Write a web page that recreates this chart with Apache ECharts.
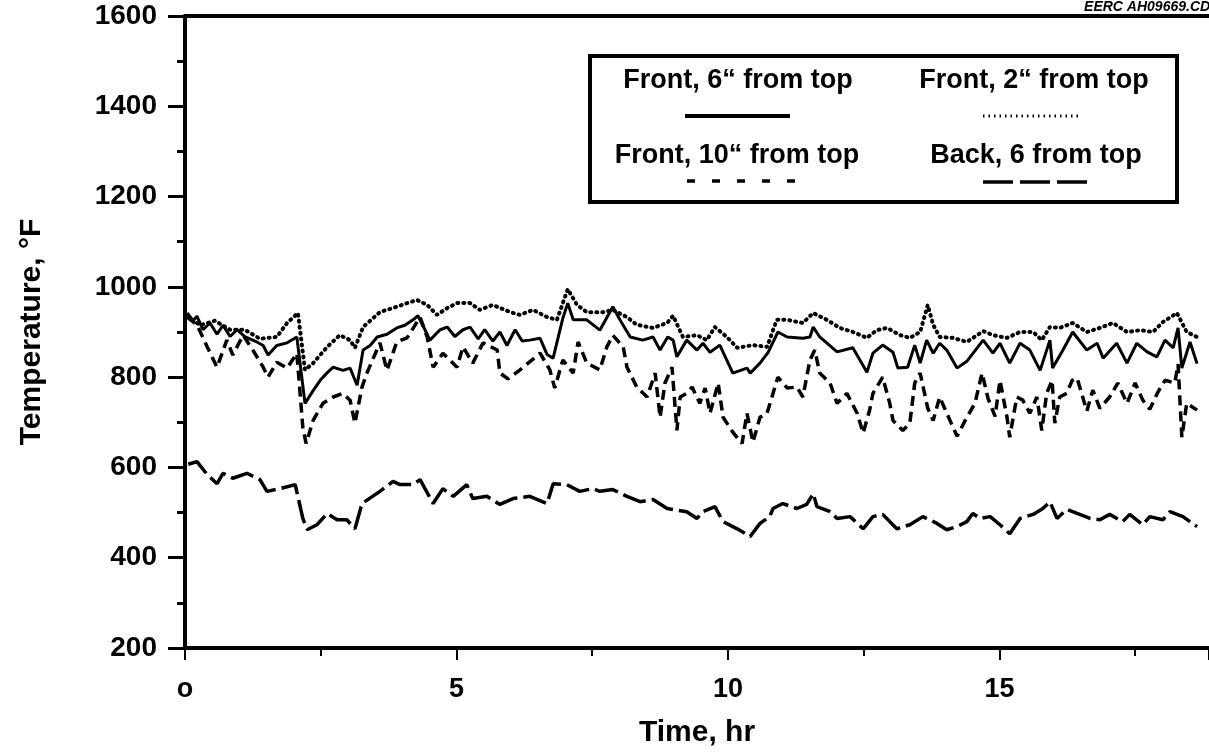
<!DOCTYPE html>
<html>
<head>
<meta charset="utf-8">
<script src="https://cdn.jsdelivr.net/npm/echarts@6/dist/echarts.min.js"></script>
<style>
html,body{margin:0;padding:0;background:#fff;}
#chart{width:1209px;height:755px;}
</style>
</head>
<body>
<div id="chart"></div>
<script>
// ---- data ----
const xTickLabels = ['o', '5', '10', '15'];
const seriesNames = ['Front, 6\u201C from top', 'Front, 2\u201C from top', 'Front, 10\u201C from top', 'Back, 6 from top'];

const front6Time = [0.04,0.15,0.22,0.33,0.46,0.59,0.70,0.83,0.96,1.10,1.29,1.44,1.53,1.69,1.88,2.06,2.21,2.36,2.49,2.62,2.73,2.91,3.04,3.17,3.28,3.41,3.54,3.72,3.90,4.05,4.20,4.29,4.42,4.51,4.70,4.83,4.97,5.12,5.25,5.40,5.52,5.67,5.80,5.93,6.08,6.21,6.35,6.54,6.67,6.78,6.96,7.05,7.15,7.40,7.64,7.88,8.01,8.20,8.43,8.62,8.75,8.89,8.99,9.06,9.24,9.43,9.54,9.67,9.85,10.09,10.35,10.41,10.59,10.74,10.92,11.09,11.38,11.51,11.57,11.69,12.01,12.30,12.56,12.61,12.67,12.85,13.04,13.13,13.31,13.44,13.54,13.66,13.78,13.90,14.03,14.22,14.40,14.70,14.88,15.01,15.19,15.38,15.56,15.75,15.93,15.98,16.17,16.35,16.61,16.80,16.91,17.16,17.35,17.53,17.72,17.90,18.05,18.20,18.29,18.36,18.51,18.64];
const front6Temp = [942,925,935,905,920,895,915,890,905,890,880,870,849,870,876,889,742,770,793,810,822,815,820,782,860,870,889,895,909,915,927,936,905,882,905,911,890,905,911,885,905,880,900,870,905,880,882,886,850,842,931,964,927,927,904,956,927,889,882,889,860,889,882,845,882,860,875,855,871,809,820,809,831,855,900,889,886,889,911,889,856,865,811,830,853,871,855,820,822,871,831,882,853,875,860,820,835,882,853,875,831,875,860,815,882,820,860,900,860,875,842,875,831,875,856,845,882,865,909,820,878,830];

const front2Time = [0.04,0.28,0.55,0.83,1.10,1.38,1.69,1.88,2.08,2.21,2.36,2.62,2.85,3.04,3.13,3.28,3.59,3.90,4.27,4.46,4.64,4.83,5.01,5.25,5.43,5.67,5.99,6.17,6.41,6.67,6.85,7.05,7.22,7.40,7.70,7.88,8.14,8.32,8.62,8.88,8.99,9.17,9.43,9.61,9.76,9.98,10.17,10.46,10.72,10.90,11.09,11.38,11.57,11.82,12.06,12.30,12.56,12.74,12.93,13.17,13.35,13.54,13.68,13.78,13.90,14.14,14.40,14.59,14.70,14.88,15.14,15.38,15.62,15.78,15.93,16.11,16.35,16.61,16.85,17.09,17.35,17.59,17.83,18.01,18.27,18.45,18.64];
const front2Temp = [935,915,925,905,905,885,889,920,942,816,831,867,893,882,865,911,944,956,971,960,938,953,964,964,949,960,944,938,949,933,927,995,960,944,944,949,933,916,909,920,936,889,893,882,911,889,865,871,867,927,927,920,942,927,909,900,887,904,909,893,887,900,960,916,889,887,878,893,902,893,887,900,900,882,911,909,920,900,909,920,900,904,900,922,942,900,889];

const front10Time = [0.04,0.22,0.41,0.59,0.77,0.88,1.07,1.25,1.44,1.53,1.69,1.88,2.06,2.17,2.23,2.36,2.54,2.73,2.91,3.04,3.13,3.26,3.35,3.59,3.72,3.90,4.09,4.33,4.46,4.57,4.75,5.01,5.12,5.30,5.49,5.75,5.80,5.95,6.17,6.54,6.72,6.81,6.96,7.15,7.24,7.40,7.64,7.77,7.88,8.07,8.14,8.32,8.51,8.66,8.75,8.84,8.97,9.06,9.12,9.24,9.34,9.48,9.58,9.67,9.82,9.91,10.09,10.26,10.35,10.46,10.59,10.72,10.83,10.92,11.09,11.27,11.38,11.51,11.60,11.69,11.88,12.01,12.19,12.38,12.49,12.61,12.67,12.85,12.98,13.04,13.22,13.35,13.44,13.54,13.68,13.78,13.90,14.09,14.22,14.40,14.55,14.68,14.79,14.92,15.01,15.14,15.19,15.32,15.43,15.56,15.69,15.78,15.87,15.97,16.02,16.11,16.24,16.34,16.43,16.61,16.72,16.85,17.03,17.18,17.35,17.50,17.64,17.77,17.92,18.05,18.23,18.29,18.36,18.45,18.64];
const front10Temp = [933,916,867,822,882,849,893,860,822,800,833,820,853,689,653,704,742,756,764,749,698,778,809,876,815,878,887,933,889,822,853,822,867,831,876,860,809,796,816,853,816,776,838,809,878,831,816,867,893,867,822,778,756,809,711,787,822,682,756,764,778,742,776,720,787,711,678,653,720,656,711,720,764,800,776,778,756,838,860,809,787,742,764,720,676,727,764,800,742,704,682,698,787,809,731,704,756,704,669,711,742,809,753,713,793,711,667,756,749,720,756,682,764,793,698,756,764,793,798,725,771,731,756,787,742,787,749,729,767,793,787,829,667,742,727];

const back6Time = [0.06,0.22,0.41,0.59,0.70,0.88,1.14,1.38,1.51,1.75,2.03,2.17,2.25,2.43,2.62,2.80,2.98,3.13,3.26,3.59,3.83,3.96,4.20,4.33,4.57,4.75,4.94,5.19,5.30,5.56,5.80,6.04,6.35,6.67,6.78,7.03,7.27,7.51,7.64,7.88,8.14,8.38,8.62,8.88,9.24,9.43,9.54,9.76,9.91,10.17,10.41,10.59,10.77,10.83,11.01,11.27,11.45,11.57,11.64,11.88,12.01,12.25,12.49,12.67,12.85,13.11,13.35,13.59,13.85,14.03,14.22,14.40,14.51,14.64,14.83,15.01,15.19,15.38,15.62,15.80,15.93,16.06,16.24,16.43,16.67,16.85,17.03,17.27,17.40,17.64,17.77,18.01,18.14,18.38,18.51,18.64];
const back6Temp = [607,613,584,564,587,576,587,573,547,553,562,487,462,473,498,484,484,464,520,547,569,562,562,573,520,553,536,562,531,536,518,531,536,520,564,562,547,553,547,551,536,524,529,509,502,487,502,513,480,464,447,476,491,509,520,509,518,542,513,502,487,491,464,491,496,464,473,491,476,462,469,480,498,487,491,473,453,487,496,509,524,487,507,498,487,484,496,480,496,473,491,484,502,491,480,469];

// ---- build ----
function zip(t, v) { return t.map((x, i) => [x, v[i]]); }
const FONT = '"Liberation Sans", Arial, sans-serif';

const chart = echarts.init(document.getElementById('chart'), null, {renderer: 'canvas'});

function legendText(x, y, txt) {
  return {type: 'text', z: 120, x: x, y: y,
    style: {text: txt, font: 'bold 27px ' + FONT, fill: '#000', align: 'center', verticalAlign: 'middle'}};
}
function legendLine(x1, x2, y, dash, w) {
  const st = {stroke: '#000', lineWidth: w};
  if (dash) st.lineDash = dash;
  return {type: 'line', z: 120, shape: {x1: x1, y1: y, x2: x2, y2: y}, style: st};
}

const option = {
  animation: false,
  backgroundColor: '#fff',
  grid: {left: 185, right: 0, top: 16, bottom: 107, containLabel: false},
  xAxis: [{
    type: 'value', min: 0, max: 18.86, interval: 5, position: 'bottom',
    name: 'Time, hr', nameLocation: 'middle', nameGap: 70,
    nameTextStyle: {fontFamily: FONT, fontWeight: 'bold', fontSize: 30, color: '#000'},
    axisLine: {show: true, onZero: false, lineStyle: {color: '#000', width: 4}},
    axisTick: {show: true, length: 12, lineStyle: {color: '#000', width: 2}},
    minorTick: {show: true, splitNumber: 2, length: 8, lineStyle: {color: '#000', width: 2}},
    splitLine: {show: false},
    axisLabel: {margin: 28, fontFamily: FONT, fontWeight: 'bold', fontSize: 27, color: '#000',
      showMaxLabel: false,
      formatter: function (v) { const i = Math.round(v / 5); return xTickLabels[i] !== undefined ? xTickLabels[i] : ''; }}
  }, {
    type: 'value', min: 0, max: 18.86, position: 'top',
    axisLine: {show: true, onZero: false, lineStyle: {color: '#000', width: 4}},
    axisTick: {show: false}, axisLabel: {show: false}, splitLine: {show: false}
  }],
  yAxis: {
    type: 'value', min: 200, max: 1600, interval: 200,
    name: 'Temperature, \u00B0F', nameLocation: 'middle', nameGap: 138, nameRotate: 90,
    nameTextStyle: {fontFamily: FONT, fontWeight: 'bold', fontSize: 30, color: '#000'},
    axisLine: {show: true, onZero: false, lineStyle: {color: '#000', width: 4}},
    axisTick: {show: true, length: 17, lineStyle: {color: '#000', width: 3}},
    minorTick: {show: true, splitNumber: 2, length: 8, lineStyle: {color: '#000', width: 3}},
    splitLine: {show: false},
    axisLabel: {margin: 28, fontFamily: FONT, fontWeight: 'bold', fontSize: 28, color: '#000',
      formatter: function (v) { return String(v); }}
  },
  series: [
    {name: seriesNames[0], type: 'line', data: zip(front6Time, front6Temp), showSymbol: false, symbol: 'none',
     lineStyle: {color: '#000', width: 3}},
    {name: seriesNames[1], type: 'line', data: zip(front2Time, front2Temp), showSymbol: false, symbol: 'none',
     lineStyle: {color: '#000', width: 4, type: [1, 5], cap: 'round'}},
    {name: seriesNames[2], type: 'line', data: zip(front10Time, front10Temp), showSymbol: false, symbol: 'none',
     lineStyle: {color: '#000', width: 3.5, type: [10, 6]}},
    {name: seriesNames[3], type: 'line', data: zip(back6Time, back6Temp), showSymbol: false, symbol: 'none',
     lineStyle: {color: '#000', width: 3.5, type: [24, 6]}}
  ],
  graphic: [
    {type: 'rect', z: 100, shape: {x: 590, y: 56, width: 587, height: 146},
     style: {fill: '#fff', stroke: '#000', lineWidth: 4}},
    legendText(738, 81, seriesNames[0]),
    legendText(1034, 81, seriesNames[1]),
    legendText(737, 156, seriesNames[2]),
    legendText(1036, 156, seriesNames[3]),
    legendLine(685, 790, 116, null, 4),
    legendLine(983, 1080, 116, [1.5, 4], 3),
    legendLine(687, 795, 181, [8, 17], 3.5),
    legendLine(983, 1090, 182, [30, 7], 3.5),
    {type: 'text', x: 1214, y: 7, z: 120,
     style: {text: 'EERC AH09669.CDI', font: 'italic bold 14px ' + FONT, fill: '#000', align: 'right', verticalAlign: 'middle'}}
  ]
};
chart.setOption(option);
</script>
</body>
</html>
